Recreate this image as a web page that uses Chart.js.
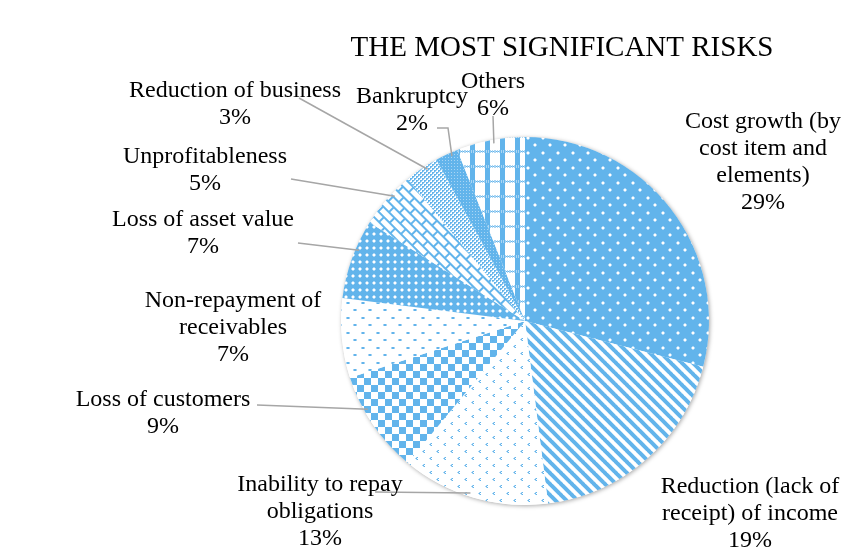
<!DOCTYPE html>
<html>
<head>
<meta charset="utf-8">
<script src="https://cdn.jsdelivr.net/npm/chart.js@4.4.0/dist/chart.umd.min.js"></script>
<style>
  html, body { margin: 0; padding: 0; background: #fff; }
  #wrap { width: 850px; height: 555px; position: relative; }
</style>
</head>
<body>
<div id="wrap"><canvas id="riskChart"></canvas></div>
<script>
// Dữ liệu biểu đồ
const categories = [
    "Cost growth (by cost item and elements)",
    "Reduction (lack of receipt) of income",
    "Inability to repay obligations",
    "Loss of customers",
    "Non-repayment of receivables",
    "Loss of asset value",
    "Unprofitableness",
    "Reduction of business",
    "Bankruptcy",
    "Others"
];
const shares = [29, 19, 13, 9, 7, 7, 5, 3, 2, 6];

// Nhãn hiển thị (các dòng chữ) cho từng lát
const labelLines = [
    ["Cost growth (by", "cost item and", "elements)"],
    ["Reduction (lack of", "receipt) of income"],
    ["Inability to repay", "obligations"],
    ["Loss of customers"],
    ["Non-repayment of", "receivables"],
    ["Loss of asset value"],
    ["Unprofitableness"],
    ["Reduction of business"],
    ["Bankruptcy"],
    ["Others"]
];

const BLUE = "#62B4EB";
const LIGHT = "#A9D5F4";

/* ==========================
   TẠO HOA VĂN (patterns)
========================== */
function makePattern(w, h, bg, draw, angle) {
    const c = document.createElement("canvas");
    c.width = w; c.height = h;
    const g = c.getContext("2d");
    g.fillStyle = bg;
    g.fillRect(0, 0, w, h);
    draw(g);
    const ctx = document.createElement("canvas").getContext("2d");
    const p = ctx.createPattern(c, "repeat");
    if (angle) p.setTransform(new DOMMatrix().rotate(angle));
    return p;
}

function px(g, color, pts) {
    g.fillStyle = color;
    pts.forEach(([x, y, w, h]) => g.fillRect(x, y, w || 1, h || 1));
}

const patterns = [
    // Cost growth: nền xanh, chấm trắng
    makePattern(15, 15, BLUE, g => {
        px(g, LIGHT, [[1, 2, 4, 2], [2, 1, 2, 4], [8, 9, 4, 2], [9, 8, 2, 4]]);
        px(g, "#fff", [[2, 2, 2, 2], [9, 9, 2, 2]]);
    }),
    // Reduction of income: sọc chéo
    makePattern(11, 11, "#fff", g => {
        g.strokeStyle = BLUE;
        g.lineWidth = 4;
        [-11, 0, 11].forEach(o => {
            g.beginPath(); g.moveTo(o - 1, -1); g.lineTo(o + 12, 12); g.stroke();
        });
    }),
    // Inability: dấu nhỏ trên nền trắng
    makePattern(14, 14, "#fff", g => {
        px(g, LIGHT, [[3, 2], [2, 3], [3, 4], [10, 9], [9, 10], [10, 11]]);
        px(g, BLUE, [[4, 2], [3, 3], [4, 4], [11, 9], [10, 10], [11, 11]]);
    }),
    // Loss of customers: bàn cờ
    makePattern(14, 14, "#fff", g => {
        px(g, BLUE, [[0, 0, 7, 7], [7, 7, 7, 7]]);
    }),
    // Non-repayment: chấm thưa
    makePattern(15, 15, "#fff", g => {
        px(g, LIGHT, [[1, 2, 4, 2], [8, 9, 4, 2]]);
        px(g, BLUE, [[2, 2, 2, 2], [9, 9, 2, 2]]);
    }),
    // Loss of asset value: nền xanh, chấm trắng dày
    makePattern(7, 7, BLUE, g => {
        px(g, LIGHT, [[1, 2, 4, 2], [2, 1, 2, 4]]);
        px(g, "#fff", [[2, 2, 2, 2]]);
    }),
    // Unprofitableness: gạch chéo
    makePattern(16, 14, "#fff", g => {
        px(g, BLUE, [[0, 0, 16, 2], [0, 7, 16, 2], [0, 0, 2, 7], [8, 7, 2, 7]]);
    }, 45),
    // Reduction of business: lưới nhỏ
    makePattern(4, 4, "#fff", g => {
        px(g, BLUE, [[0, 0, 2, 1], [0, 1, 1, 1], [2, 2, 2, 1], [2, 3, 1, 1]]);
        px(g, LIGHT, [[1, 1], [3, 3], [2, 0], [0, 2]]);
    }),
    // Bankruptcy: nền xanh đậm, chấm trắng nhỏ
    makePattern(3, 3, BLUE, g => {
        px(g, LIGHT, [[1, 1]]);
    }),
    // Others: kẻ ô
    makePattern(15, 15, "#fff", g => {
        px(g, BLUE, [[5, 0, 5, 15]]);
        for (let x = 0; x < 15; x += 2) px(g, LIGHT, [[x, 0, 1, 3]]);
        for (let x = 1; x < 15; x += 2) px(g, BLUE, [[x, 1, 1, 1]]);
    })
];

/* ==========================
   VỊ TRÍ NHÃN VÀ ĐƯỜNG DẪN
========================== */
// tâm chữ (x, y dòng đầu), điểm bắt đầu đường dẫn (nếu có)
const labelPlaces = [
    { x: 763, y: 122 },
    { x: 750, y: 487 },
    { x: 320, y: 485, line: [[375, 492]] },
    { x: 163, y: 400, line: [[257, 405]] },
    { x: 233, y: 301 },
    { x: 203, y: 220, line: [[298, 243]] },
    { x: 205, y: 157, line: [[291, 179]] },
    { x: 235, y: 91, line: [[299, 98]] },
    { x: 412, y: 97, line: [[437, 128], [448, 128]] },
    { x: 493, y: 82, line: [[493, 116]] }
];
// vị trí trên cung (0..1) nơi đường dẫn chạm vào lát
const lineHit = [0.5, 0.5, 0.53, 0.65, 0.5, 0.63, 0.63, 0.64, 0.68, 0.54];

const labelPlugin = {
    id: "riskLabels",
    beforeDatasetsDraw(chart) {
        const arc = chart.getDatasetMeta(0).data[0];
        const ctx = chart.ctx;
        ctx.save();
        ctx.shadowColor = "rgba(0,0,0,0.35)";
        ctx.shadowBlur = 4;
        ctx.shadowOffsetX = 1;
        ctx.shadowOffsetY = 1;
        ctx.fillStyle = "#fff";
        ctx.beginPath();
        ctx.arc(arc.x, arc.y, arc.outerRadius, 0, Math.PI * 2);
        ctx.fill();
        ctx.restore();
    },
    afterDraw(chart) {
        const ctx = chart.ctx;
        const meta = chart.getDatasetMeta(0);
        ctx.save();

        // Tiêu đề
        ctx.fillStyle = "#000";
        ctx.textAlign = "center";
        ctx.textBaseline = "middle";
        ctx.font = "29px 'Liberation Serif'";
        ctx.fillText("THE MOST SIGNIFICANT RISKS", 562, 48);

        // Đường dẫn
        ctx.strokeStyle = "#A6A6A6";
        ctx.lineWidth = 1.5;
        meta.data.forEach((arc, i) => {
            const pl = labelPlaces[i];
            if (!pl.line) return;
            const a = arc.startAngle + (arc.endAngle - arc.startAngle) * lineHit[i];
            const r = arc.outerRadius * 0.98;
            const ex = arc.x + Math.cos(a) * r;
            const ey = arc.y + Math.sin(a) * r;
            ctx.beginPath();
            ctx.moveTo(pl.line[0][0], pl.line[0][1]);
            pl.line.slice(1).forEach(p => ctx.lineTo(p[0], p[1]));
            ctx.lineTo(ex, ey);
            ctx.stroke();
        });

        // Nhãn
        ctx.fillStyle = "#000";
        ctx.font = "24px 'Liberation Serif'";
        const total = shares.reduce((s, v) => s + v, 0);
        meta.data.forEach((arc, i) => {
            const pl = labelPlaces[i];
            const lines = labelLines[i].concat([Math.round(shares[i] / total * 100) + "%"]);
            lines.forEach((t, k) => ctx.fillText(t, pl.x, pl.y + k * 27));
        });
        ctx.restore();
    }
};

new Chart(document.getElementById("riskChart"), {
    type: "pie",
    data: {
        labels: categories,
        datasets: [{
            data: shares,
            backgroundColor: patterns,
            borderWidth: 0,
            hoverOffset: 0
        }]
    },
    options: {
        responsive: true,
        maintainAspectRatio: false,
        animation: false,
        layout: { padding: { left: 341, right: 141, top: 137, bottom: 50 } },
        plugins: {
            legend: { display: false },
            tooltip: { enabled: false },
            title: { display: false }
        }
    },
    plugins: [labelPlugin]
});
</script>
</body>
</html>
